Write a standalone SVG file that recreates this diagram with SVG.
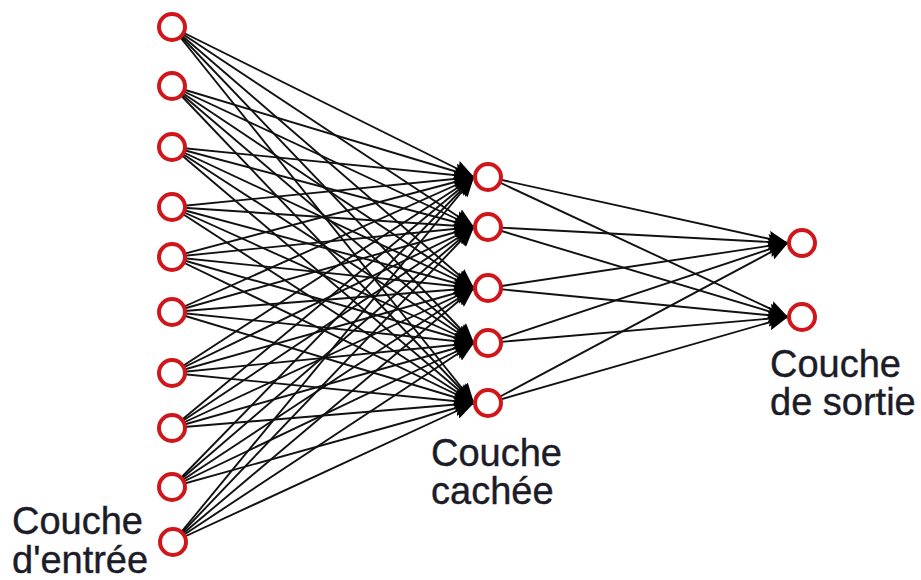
<svg xmlns="http://www.w3.org/2000/svg" width="921" height="580" viewBox="0 0 921 580">
  <style>
    .edge { stroke: #111; stroke-width: 1.9; fill: none; marker-end: url(#arrow); }
    .node circle { fill: #fff; stroke: #d0161a; stroke-width: 4; }
    .label { font-family: "Liberation Sans", Arial, sans-serif; font-size: 38px; fill: #1c1c28; stroke: #1c1c28; stroke-width: 0.4; }
  </style>
  <defs>
    <marker id="arrow" markerUnits="userSpaceOnUse" markerWidth="22" markerHeight="16" refX="20" refY="8" orient="auto">
      <path d="M0,0 L20,8 L0,16 L3,8 z" fill="#000"/>
    </marker>
  </defs>
  <rect width="921" height="580" fill="#fff"/>

  <!-- connectors: input layer to hidden layer, hidden layer to output layer -->
  <g id="connectors">
    <line class="edge" x1="172" y1="27" x2="474" y2="177"/>
    <line class="edge" x1="172" y1="27" x2="474" y2="227"/>
    <line class="edge" x1="172" y1="27" x2="474" y2="288"/>
    <line class="edge" x1="172" y1="27" x2="474" y2="343"/>
    <line class="edge" x1="172" y1="27" x2="474" y2="403"/>
    <line class="edge" x1="172" y1="86" x2="474" y2="177"/>
    <line class="edge" x1="172" y1="86" x2="474" y2="227"/>
    <line class="edge" x1="172" y1="86" x2="474" y2="288"/>
    <line class="edge" x1="172" y1="86" x2="474" y2="343"/>
    <line class="edge" x1="172" y1="86" x2="474" y2="403"/>
    <line class="edge" x1="172" y1="147" x2="474" y2="177"/>
    <line class="edge" x1="172" y1="147" x2="474" y2="227"/>
    <line class="edge" x1="172" y1="147" x2="474" y2="288"/>
    <line class="edge" x1="172" y1="147" x2="474" y2="343"/>
    <line class="edge" x1="172" y1="147" x2="474" y2="403"/>
    <line class="edge" x1="172" y1="207" x2="474" y2="177"/>
    <line class="edge" x1="172" y1="207" x2="474" y2="227"/>
    <line class="edge" x1="172" y1="207" x2="474" y2="288"/>
    <line class="edge" x1="172" y1="207" x2="474" y2="343"/>
    <line class="edge" x1="172" y1="207" x2="474" y2="403"/>
    <line class="edge" x1="172" y1="257" x2="474" y2="177"/>
    <line class="edge" x1="172" y1="257" x2="474" y2="227"/>
    <line class="edge" x1="172" y1="257" x2="474" y2="288"/>
    <line class="edge" x1="172" y1="257" x2="474" y2="343"/>
    <line class="edge" x1="172" y1="257" x2="474" y2="403"/>
    <line class="edge" x1="172" y1="312" x2="474" y2="177"/>
    <line class="edge" x1="172" y1="312" x2="474" y2="227"/>
    <line class="edge" x1="172" y1="312" x2="474" y2="288"/>
    <line class="edge" x1="172" y1="312" x2="474" y2="343"/>
    <line class="edge" x1="172" y1="312" x2="474" y2="403"/>
    <line class="edge" x1="172" y1="373" x2="474" y2="177"/>
    <line class="edge" x1="172" y1="373" x2="474" y2="227"/>
    <line class="edge" x1="172" y1="373" x2="474" y2="288"/>
    <line class="edge" x1="172" y1="373" x2="474" y2="343"/>
    <line class="edge" x1="172" y1="373" x2="474" y2="403"/>
    <line class="edge" x1="172" y1="428" x2="474" y2="177"/>
    <line class="edge" x1="172" y1="428" x2="474" y2="227"/>
    <line class="edge" x1="172" y1="428" x2="474" y2="288"/>
    <line class="edge" x1="172" y1="428" x2="474" y2="343"/>
    <line class="edge" x1="172" y1="428" x2="474" y2="403"/>
    <line class="edge" x1="172" y1="487" x2="474" y2="177"/>
    <line class="edge" x1="172" y1="487" x2="474" y2="227"/>
    <line class="edge" x1="172" y1="487" x2="474" y2="288"/>
    <line class="edge" x1="172" y1="487" x2="474" y2="343"/>
    <line class="edge" x1="172" y1="487" x2="474" y2="403"/>
    <line class="edge" x1="173" y1="542" x2="474" y2="177"/>
    <line class="edge" x1="173" y1="542" x2="474" y2="227"/>
    <line class="edge" x1="173" y1="542" x2="474" y2="288"/>
    <line class="edge" x1="173" y1="542" x2="474" y2="343"/>
    <line class="edge" x1="173" y1="542" x2="474" y2="403"/>

    <line class="edge" x1="488" y1="177" x2="788" y2="243"/>
    <line class="edge" x1="488" y1="177" x2="788" y2="317"/>
    <line class="edge" x1="488" y1="227" x2="788" y2="243"/>
    <line class="edge" x1="488" y1="227" x2="788" y2="317"/>
    <line class="edge" x1="488" y1="288" x2="788" y2="243"/>
    <line class="edge" x1="488" y1="288" x2="788" y2="317"/>
    <line class="edge" x1="488" y1="343" x2="788" y2="243"/>
    <line class="edge" x1="488" y1="343" x2="788" y2="317"/>
    <line class="edge" x1="488" y1="403" x2="788" y2="243"/>
    <line class="edge" x1="488" y1="403" x2="788" y2="317"/>
  </g>

  <!-- input layer -->
  <g id="in1" class="node"><circle cx="172" cy="27" r="13"/></g>
  <g id="in2" class="node"><circle cx="172" cy="86" r="13"/></g>
  <g id="in3" class="node"><circle cx="172" cy="147" r="13"/></g>
  <g id="in4" class="node"><circle cx="172" cy="207" r="13"/></g>
  <g id="in5" class="node"><circle cx="172" cy="257" r="13"/></g>
  <g id="in6" class="node"><circle cx="172" cy="312" r="13"/></g>
  <g id="in7" class="node"><circle cx="172" cy="373" r="13"/></g>
  <g id="in8" class="node"><circle cx="172" cy="428" r="13"/></g>
  <g id="in9" class="node"><circle cx="172" cy="487" r="13"/></g>
  <g id="in10" class="node"><circle cx="173" cy="542" r="13"/></g>

  <!-- hidden layer -->
  <g id="h1" class="node"><circle cx="488" cy="177" r="13"/></g>
  <g id="h2" class="node"><circle cx="488" cy="227" r="13"/></g>
  <g id="h3" class="node"><circle cx="488" cy="288" r="13"/></g>
  <g id="h4" class="node"><circle cx="488" cy="343" r="13"/></g>
  <g id="h5" class="node"><circle cx="488" cy="403" r="13"/></g>

  <!-- output layer -->
  <g id="out1" class="node"><circle cx="802" cy="243" r="13"/></g>
  <g id="out2" class="node"><circle cx="802" cy="317" r="13"/></g>

  <!-- layer captions -->
  <g id="label-input">
    <text class="label" x="12" y="534">Couche</text>
    <text class="label" x="12" y="573">d'entrée</text>
  </g>
  <g id="label-hidden">
    <text class="label" x="431" y="466">Couche</text>
    <text class="label" x="431" y="504">cachée</text>
  </g>
  <g id="label-output">
    <text class="label" x="770" y="377">Couche</text>
    <text class="label" x="770" y="415">de sortie</text>
  </g>
</svg>
